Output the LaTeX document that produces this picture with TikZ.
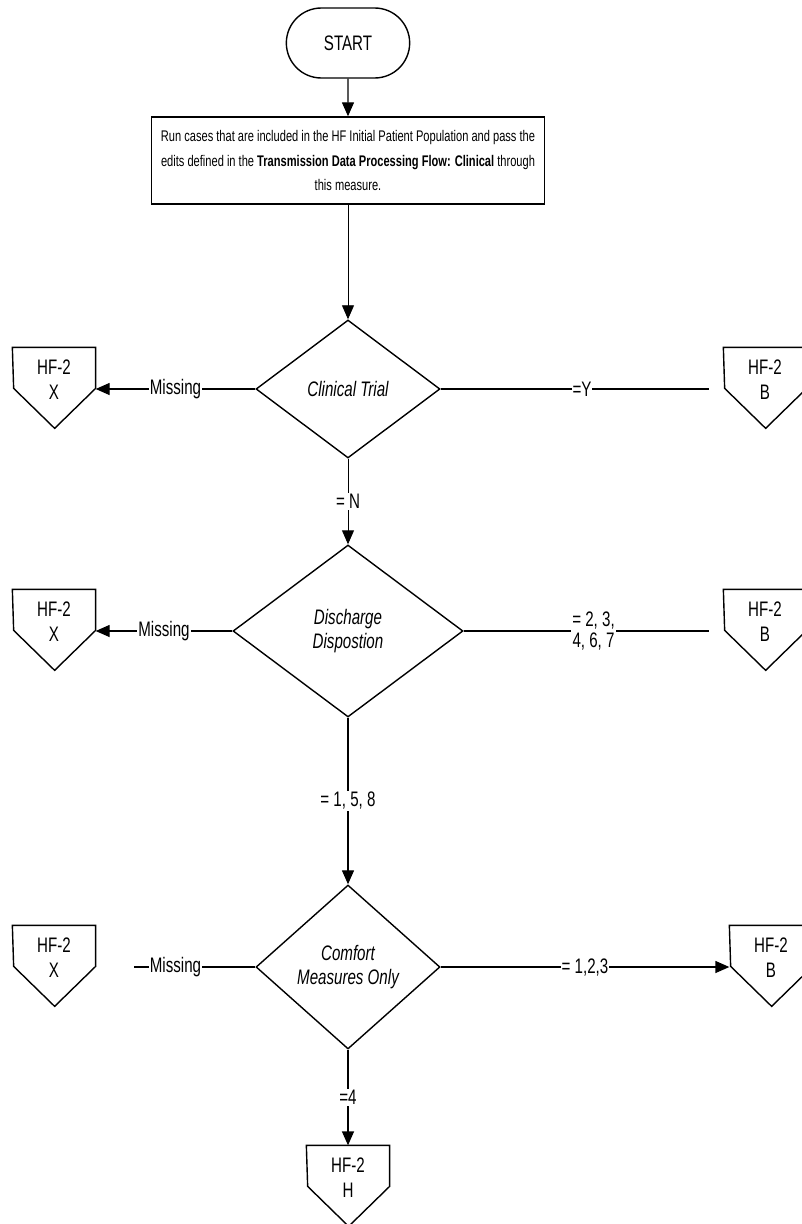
\documentclass[tikz,border=0pt]{standalone}
\usepackage{fontspec}
\setmainfont{Liberation Sans}[FakeStretch=0.72]
\usetikzlibrary{arrows.meta,shapes.geometric,shapes.misc}

\begin{document}
\begin{tikzpicture}[x=1pt,y=-1pt,->,>={Triangle[length=14pt,width=12pt]},line width=1.3pt,
    font=\fontsize{21}{25}\selectfont]
  \tikzstyle{terminal}=[rounded rectangle,draw,line width=1.4pt,minimum width=130,minimum height=70]
  \tikzstyle{process}=[rectangle,draw,line width=1.4pt,minimum width=393,minimum height=87,align=center,
    inner sep=2pt,font=\fontsize{15.4}{24.5}\selectfont]
  \tikzstyle{decision}=[diamond,draw,line width=1.4pt,inner sep=0pt,align=center,
    font=\fontsize{21}{24}\selectfont\itshape]
  \tikzstyle{conn}=[rectangle,minimum width=82,minimum height=64,inner sep=0pt,align=center,
    font=\fontsize{21}{25}\selectfont]
  \tikzstyle{lbl}=[fill=white,inner sep=1pt,align=center,font=\fontsize{21}{21}\selectfont]

  \useasboundingbox (0,0) rectangle (802,1224);

  \node[terminal] (start) at (348,43) {START};
  \node[process]  (run)   at (348,160.5)
    {Run cases that are included in the HF Initial Patient Population and pass the\\
     edits defined in the \textbf{Transmission Data Processing Flow: Clinical} through\\
     this measure.};

  \node[decision,minimum width=184,minimum height=138] (trial)   at (348,389) {Clinical Trial};
  \node[decision,minimum width=230,minimum height=172] (disch)   at (348,631) {Discharge\\Dispostion};
  \node[decision,minimum width=184,minimum height=164] (comfort) at (348,967) {Comfort\\Measures Only};

  % off page connectors
  \node[conn] (x1) at (54,380)  {HF-2\\X};
  \node[conn] (b1) at (765,380) {HF-2\\B};
  \node[conn] (x2) at (54,622)  {HF-2\\X};
  \node[conn] (b2) at (765,622) {HF-2\\B};
  \node[conn] (x3) at (54,958)  {HF-2\\X};
  \node[conn] (b3) at (771,958) {HF-2\\B};
  \node[conn] (h1) at (348,1178) {HF-2\\H};
  \foreach \n in {x1,b1,x2,b2,x3,b3,h1}
    \draw[-,line width=1.4pt] (\n.north west) -- (\n.north east) -- ++(0,41) -- ++(-41,40) -- ++(-41,-40) -- cycle;

  \path (start)   edge                     (run)
        (run)     edge[line width=0.9pt]   (trial)
        (trial)   edge                     node[lbl] {Missing} ([yshift=-9pt]x1.east)
                  edge[-,shorten >=14pt]   node[lbl] {=Y} ([yshift=-9pt]b1.west)
                  edge[line width=0.9pt]   node[lbl] {= N} (disch)
        (disch)   edge                     node[lbl] {Missing} ([yshift=-9pt]x2.east)
                  edge[-,shorten >=14pt]   node[lbl] {= 2, 3,\\4, 6, 7} ([yshift=-9pt]b2.west)
                  edge                     node[lbl] {= 1, 5, 8} (comfort)
        (comfort) edge[-,shorten >=38pt]   node[lbl] {Missing} ([yshift=-9pt]x3.east)
                  edge                     node[lbl] {= 1,2,3} ([yshift=-9pt]b3.west)
                  edge                     node[lbl] {=4} (h1);
\end{tikzpicture}
\end{document}
